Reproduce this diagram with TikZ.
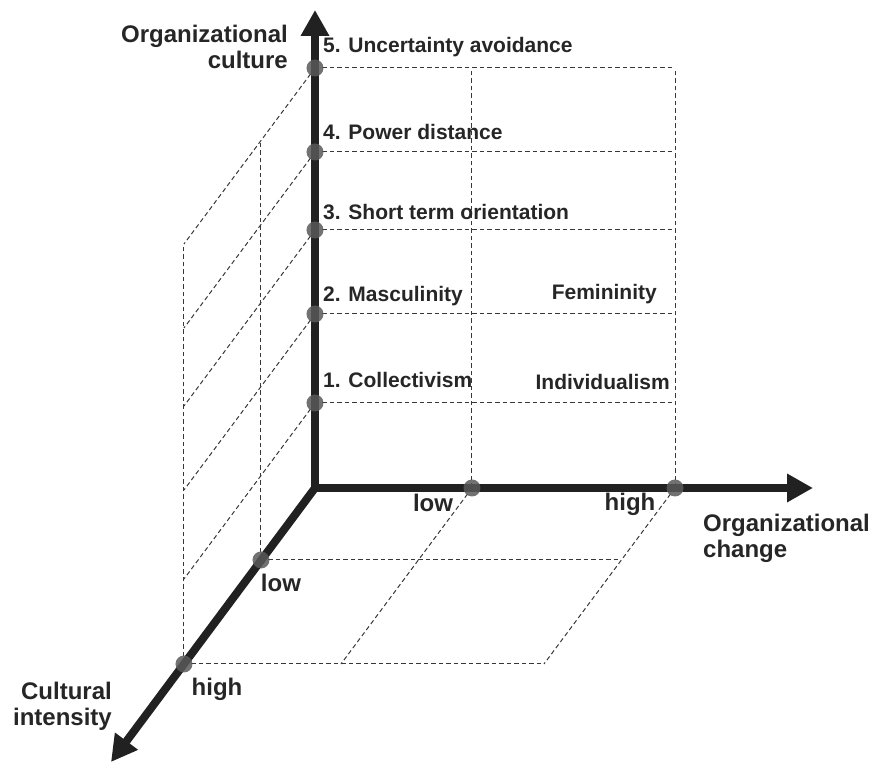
\documentclass[tikz,border=0pt]{standalone}
\usepackage{fontspec}
\setmainfont{Liberation Sans}
\usetikzlibrary{arrows.meta,calc,positioning}

\begin{document}
\begin{tikzpicture}[x=1pt, y=1pt]
   \useasboundingbox (-315,-277) rectangle (564,488);
   \tikzset{
    axis/.style={line width=8pt, draw=black!87},
    tip/.style={-{Triangle[length=26pt,width=27pt]}},
    grid/.style={draw=black!78, line width=1pt, dash pattern=on 4.5pt off 3pt},
    dot/.style={circle, fill=black!65, fill opacity=0.85, inner sep=0pt, minimum size=17pt},
    lbl/.style={font=\fontsize{21}{24}\selectfont\bfseries, text=black!85, inner sep=0pt},
    tick/.style={font=\fontsize{24}{26}\selectfont\bfseries, text=black!85, inner sep=0pt},
    title/.style={font=\fontsize{24}{26}\selectfont\bfseries, text=black!85, inner sep=0pt}
   }
   % axes
   \coordinate (O) at (0,0);
   \coordinate (top) at (0,478);
   \coordinate (right) at (498,0);
   \coordinate (front) at (-204,-274);
   \coordinate (lo) at (-54,-72);
   \coordinate (hi) at (-131,-176);

   \coordinate (h1) at (157,0);
   \coordinate (h2) at (360,0);
   \coordinate (d1) at (lo);
   \coordinate (d2) at (hi);

   % back wall and side wall
   \foreach \n/\y in {1/85,2/174,3/258,4/336,5/420} {
    \coordinate (c\n) at (0,\y);
    \coordinate (s\n) at ($(c\n)+(hi)$);
    \draw[grid] (c\n) -- (h2 |- c\n);
    \draw[grid] (c\n) -- (s\n);
   }
   \coordinate (lotop) at ($(c5)+(lo)$);
   \draw[grid] (h1) -- (h1 |- c5);
   \draw[grid] (h2) -- (h2 |- c5);
   \draw[grid] (d1) -- (lotop);
   \draw[grid] (d2) -- (s5);

   % floor
   \coordinate (f1) at ($(h1)+(hi)$);
   \coordinate (f2) at ($(h2)+(hi)$);
   \coordinate (m2) at ($(h2)+(lo)$);
   \draw[grid] (h1) -- (f1);
   \draw[grid] (h2) -- (f2);
   \draw[grid] (d1) -- (m2);
   \draw[grid] (d2) -- (f2);

   \draw[axis, {Triangle[length=26pt,width=27pt]}-{Triangle[length=26pt,width=27pt]}] (top) -- (O) -- (right);
   \draw[axis, tip] (O) -- (front);

   \foreach \n in {1,...,5}
    \node[dot] (p\n) at (c\n) {};
   \node[dot] (q1) at (h1) {};
   \node[dot] (q2) at (h2) {};
   \node[dot] (r1) at (d1) {};
   \node[dot] (r2) at (d2) {};

   % labels
   \node[lbl, anchor=base west] (l5) at (8,435) {5. Uncertainty avoidance};
   \node[lbl, anchor=base west] (l4) at (8,348) {4. Power distance};
   \node[lbl, anchor=base west] (l3) at (8,268) {3. Short term orientation};
   \node[lbl, anchor=base west] (l2) at (8,186) {2. Masculinity};
   \node[lbl, anchor=base west] (l1) at (8,100) {1. Collectivism};
   \node[lbl, anchor=base east] (fem) at (342,188) {Femininity};
   \node[lbl, anchor=base east] (ind) at (355,98) {Individualism};

   \node[tick, anchor=base] (xlow) at (118,-24) {low};
   \node[tick, anchor=base] (xhigh) at (315,-23) {high};
   \node[tick, anchor=base] (zlow) at (-34,-104) {low};
   \node[tick, anchor=base] (zhigh) at (-98,-208) {high};

   \node[title, align=right, anchor=north east] (culture) at (-27,463) {Organizational\\culture};
   \node[title, align=left, anchor=north west] (change) at (388,-26) {Organizational\\change};
   \node[title, align=right, anchor=north east] (intensity) at (-203,-194) {Cultural\\intensity};
\end{tikzpicture}
\end{document}
